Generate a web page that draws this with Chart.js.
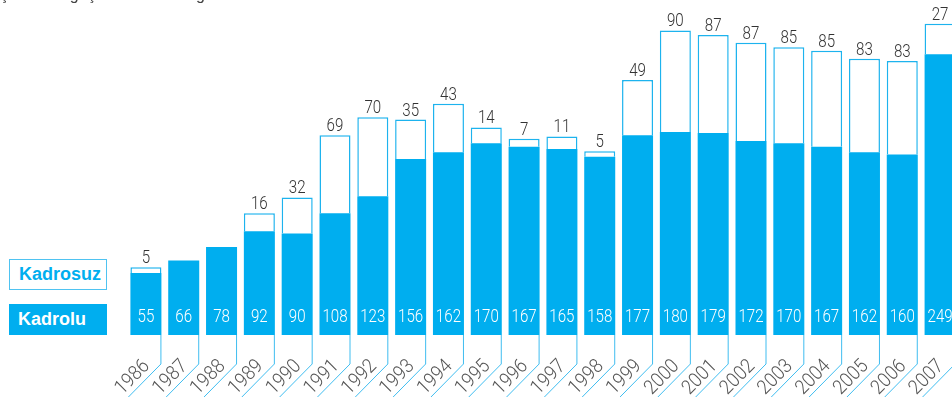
<!DOCTYPE html>
<html>
<head>
<meta charset="utf-8">
<script src="https://cdn.jsdelivr.net/npm/chart.js@4.4.0/dist/chart.umd.min.js"></script>
<style>
  html, body { margin: 0; padding: 0; background: #fff; overflow: hidden; }
  #wrap { position: relative; width: 980px; height: 403px; }
  #title { position: absolute; left: -4px; top: -14px; font: 16px "Liberation Sans", sans-serif; color: #444; white-space: nowrap; }
  .lg { position: absolute; left: 9px; width: 98px; height: 31px; box-sizing: border-box;
        font: bold 18px "Liberation Sans", Arial, sans-serif; line-height: 29px; padding-left: 9px; }
  #lg-kadrosuz { top: 259px; border: 1.5px solid #4fc3f1; color: #00aeef; background: #fff; }
  #lg-kadrolu { top: 304px; background: #00aeef; color: #fff; line-height: 31px; }
</style>
</head>
<body>
<div id="wrap">
  <div id="title">ış tarihine geçen kadrolu ve görevli memur</div>
  <div class="lg" id="lg-kadrosuz">Kadrosuz</div>
  <div class="lg" id="lg-kadrolu">Kadrolu</div>
  <canvas id="chart" width="980" height="403"></canvas>
</div>
<script>
const years = ["1986", "1987", "1988", "1989", "1990", "1991", "1992", "1993", "1994", "1995", "1996",
               "1997", "1998", "1999", "2000", "2001", "2002", "2003", "2004", "2005", "2006", "2007"];
const kadrolu = [55, 66, 78, 92, 90, 108, 123, 156, 162, 170, 167, 165, 158, 177, 180, 179, 172, 170, 167, 162, 160, 249];
const kadrosuz = [5, null, null, 16, 32, 69, 70, 35, 43, 14, 7, 11, 5, 49, 90, 87, 87, 85, 85, 83, 83, 27];

const BLUE = "#00aeef";
const LIGHT = '300 18px Roboto, "Liberation Sans", sans-serif';

// narrow text: roboto light squeezed sideways
function narrowText(ctx, text, x, y, sx) {
    ctx.save();
    ctx.translate(x, y);
    ctx.scale(sx, 1);
    ctx.fillText(text, 0, 0);
    ctx.restore();
}

const labelsPlugin = {
    id: "barLabels",
    afterDatasetsDraw(chart) {
        const ctx = chart.ctx;
        const base = chart.scales.y.getPixelForValue(0);
        const bottom = chart.getDatasetMeta(0).data;
        const top = chart.getDatasetMeta(1).data;
        ctx.save();
        bottom.forEach((bar, i) => {
            const xr = bar.x + bar.width / 2;

            ctx.font = LIGHT;
            ctx.fillStyle = "#fff";
            ctx.textAlign = "center";
            ctx.textBaseline = "middle";
            narrowText(ctx, String(kadrolu[i]), bar.x, base - 18, 0.84);

            if (kadrosuz[i] != null) {
                ctx.fillStyle = "#333";
                ctx.textBaseline = "alphabetic";
                narrowText(ctx, String(kadrosuz[i]), bar.x, top[i].y - 4, 0.84);
            }

            ctx.strokeStyle = "#3fbdf0";
            ctx.lineWidth = 1;
            ctx.beginPath();
            ctx.moveTo(xr - 0.5, base);
            ctx.lineTo(xr - 0.5, base + 29);
            ctx.lineTo(xr - 33, base + 62);
            ctx.stroke();

            ctx.save();
            ctx.translate(xr - 11, base + 32);
            ctx.rotate(-Math.PI / 4);
            ctx.scale(0.9, 1);
            ctx.fillStyle = "#555";
            ctx.font = '300 20px Roboto, "Liberation Sans", sans-serif';
            ctx.textAlign = "right";
            ctx.textBaseline = "alphabetic";
            ctx.fillText(years[i], 0, 0);
            ctx.restore();
        });
        ctx.restore();
    }
};

new Chart(document.getElementById("chart"), {
    type: "bar",
    data: {
        labels: years,
        datasets: [{
            label: "Kadrolu",
            data: kadrolu,
            backgroundColor: BLUE,
            borderWidth: 0
        }, {
            label: "Kadrosuz",
            data: kadrosuz,
            backgroundColor: "#fff",
            borderColor: "#1db3ee",
            borderWidth: 1.5
        }]
    },
    options: {
        responsive: false,
        animation: false,
        layout: { padding: { left: 127, right: 21, top: 0, bottom: 68 } },
        datasets: { bar: { categoryPercentage: 1, barPercentage: 0.82 } },
        scales: {
            x: { stacked: true, display: false },
            y: { stacked: true, display: false, min: 0, max: 297 }
        },
        plugins: { legend: { display: false }, tooltip: { enabled: false } }
    },
    plugins: [labelsPlugin]
});
</script>
</body>
</html>
